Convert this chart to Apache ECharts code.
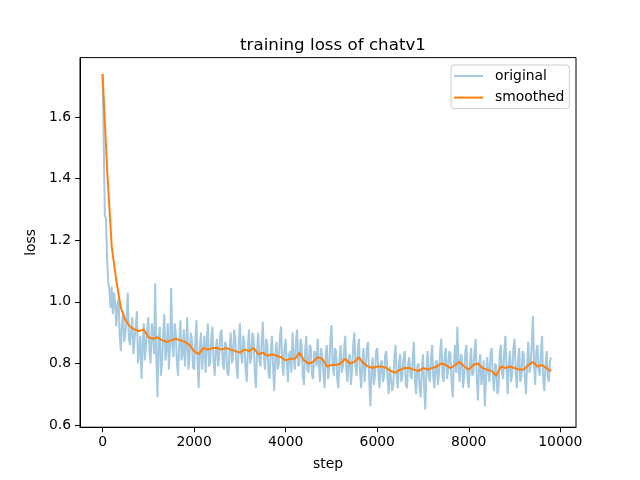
<!DOCTYPE html>
<html>
<head>
<meta charset="utf-8">
<title>training loss of chatv1</title>
<script src="https://cdn.jsdelivr.net/npm/echarts@6/dist/echarts.min.js"></script>
<style>
  html, body { margin: 0; padding: 0; background: #fff; }
  #chart { width: 640px; height: 480px; }
</style>
</head>
<body>
<div id="chart"></div>
<script>
// raw loss, one value every 25 steps (0 .. 9800), one row = 500 steps
var rawStep = 25
var rawLoss = [
  1.74, 1.52, 1.28, 1.27, 1.14, 1.06, 1.04, 0.98, 1.05, 0.96, 1.03, 1.00, 0.92, 0.99, 1.01, 0.89, 0.84, 0.93, 0.97, 0.87,
  0.90, 0.94, 1.03, 0.88, 0.86, 0.91, 0.95, 0.83, 0.88, 0.92, 0.97, 0.80, 0.84, 0.89, 0.75, 0.85, 0.93, 0.81, 0.86, 0.91,
  0.95, 0.84, 0.80, 0.93, 0.90, 0.83, 1.06, 0.82, 0.69, 0.88, 0.92, 0.76, 0.80, 0.90, 0.96, 0.81, 0.85, 0.93, 0.78, 0.86,
  1.045, 0.86, 0.82, 0.93, 0.90, 0.80, 0.76, 0.87, 0.94, 0.81, 0.83, 0.91, 0.79, 0.86, 0.95, 0.78, 0.82, 0.90, 0.88, 0.79,
  0.78, 0.87, 0.94, 0.81, 0.72, 0.85, 0.90, 0.78, 0.84, 0.89, 0.77, 0.86, 0.93, 0.79, 0.80, 0.88, 0.92, 0.81, 0.76, 0.85,
  0.88, 0.79, 0.83, 0.90, 0.91, 0.80, 0.78, 0.87, 0.86, 0.77, 0.76, 0.85, 0.90, 0.80, 0.82, 0.91, 0.88, 0.79, 0.75, 0.86,
  0.93, 0.83, 0.80, 0.89, 0.86, 0.78, 0.74, 0.85, 0.91, 0.80, 0.82, 0.90, 0.88, 0.77, 0.72, 0.84, 0.90, 0.81, 0.79, 0.87,
  0.935, 0.82, 0.78, 0.88, 0.86, 0.77, 0.75, 0.84, 0.89, 0.79, 0.71, 0.83, 0.87, 0.78, 0.80, 0.89, 0.92, 0.80, 0.76, 0.85,
  0.88, 0.80, 0.74, 0.83, 0.84, 0.77, 0.90, 0.82, 0.78, 0.87, 0.91, 0.79, 0.80, 0.88, 0.86, 0.76, 0.73, 0.84, 0.89, 0.78,
  0.77, 0.86, 0.85, 0.76, 0.75, 0.84, 0.83, 0.79, 0.88, 0.80, 0.74, 0.85, 0.82, 0.77, 0.72, 0.83, 0.86, 0.75, 0.78, 0.87,
  0.925, 0.80, 0.76, 0.85, 0.84, 0.75, 0.72, 0.81, 0.86, 0.77, 0.79, 0.84, 0.89, 0.78, 0.74, 0.82, 0.83, 0.73, 0.78, 0.86,
  0.90, 0.79, 0.76, 0.84, 0.88, 0.77, 0.72, 0.80, 0.85, 0.74, 0.79, 0.85, 0.87, 0.75, 0.66, 0.78, 0.82, 0.73, 0.76, 0.84,
  0.85, 0.77, 0.72, 0.80, 0.81, 0.74, 0.76, 0.83, 0.84, 0.75, 0.70, 0.79, 0.79, 0.71, 0.73, 0.82, 0.86, 0.76, 0.72, 0.80,
  0.83, 0.74, 0.76, 0.82, 0.84, 0.73, 0.72, 0.80, 0.82, 0.76, 0.75, 0.81, 0.87, 0.74, 0.70, 0.79, 0.80, 0.72, 0.69, 0.78,
  0.83, 0.72, 0.65, 0.78, 0.84, 0.76, 0.74, 0.82, 0.86, 0.75, 0.72, 0.80, 0.81, 0.73, 0.77, 0.84, 0.88, 0.76, 0.74, 0.83,
  0.85, 0.75, 0.78, 0.84, 0.83, 0.74, 0.69, 0.80, 0.86, 0.77, 0.92, 0.79, 0.74, 0.83, 0.82, 0.72, 0.76, 0.84, 0.86, 0.75,
  0.72, 0.80, 0.85, 0.76, 0.77, 0.84, 0.88, 0.75, 0.68, 0.79, 0.83, 0.73, 0.76, 0.81, 0.66, 0.75, 0.82, 0.78, 0.74, 0.83,
  0.85, 0.76, 0.71, 0.80, 0.79, 0.70, 0.72, 0.83, 0.86, 0.77, 0.75, 0.84, 0.89, 0.78, 0.70, 0.80, 0.84, 0.74, 0.77, 0.85,
  0.88, 0.77, 0.72, 0.81, 0.85, 0.74, 0.76, 0.84, 0.83, 0.75, 0.70, 0.80, 0.87, 0.77, 0.79, 0.86, 0.955, 0.80, 0.73, 0.84,
  0.86, 0.78, 0.76, 0.83, 0.89, 0.75, 0.71, 0.79, 0.84, 0.76, 0.74, 0.81, 0.82
]

// smoothed loss, one value every 100 steps (0 .. 9800)
var smoothStep = 100
var smoothLoss = [
  1.74, 1.43, 1.18, 1.07, 0.98, 0.94, 0.92, 0.91, 0.905, 0.91,
  0.885, 0.88, 0.885, 0.875, 0.87, 0.875, 0.88, 0.875, 0.87, 0.86,
  0.84, 0.83, 0.85, 0.845, 0.85, 0.85, 0.845, 0.85, 0.845, 0.84,
  0.835, 0.845, 0.84, 0.85, 0.83, 0.835, 0.825, 0.83, 0.825, 0.82,
  0.81, 0.815, 0.815, 0.835, 0.81, 0.80, 0.805, 0.82, 0.815, 0.79,
  0.795, 0.795, 0.80, 0.815, 0.80, 0.805, 0.82, 0.80, 0.79, 0.785,
  0.79, 0.79, 0.785, 0.775, 0.77, 0.78, 0.785, 0.785, 0.78, 0.775,
  0.785, 0.78, 0.785, 0.79, 0.80, 0.795, 0.785, 0.795, 0.805, 0.79,
  0.78, 0.795, 0.80, 0.785, 0.78, 0.775, 0.76, 0.79, 0.785, 0.79,
  0.785, 0.78, 0.78, 0.795, 0.805, 0.79, 0.795, 0.785, 0.775
]

var xTicks = [0, 2000, 4000, 6000, 8000, 10000]
var yTicks = [0.6, 0.8, 1.0, 1.2, 1.4, 1.6]

var font = 'DejaVu Sans'

function toPairs (values, step) {
  return values.map(function (v, i) { return [i * step, v] })
}

var chart = echarts.init(document.getElementById('chart'), null, { renderer: 'canvas' })

var option = {
  animation: false,
  backgroundColor: '#ffffff',
  textStyle: { fontFamily: font },
  title: {
    text: 'training loss of chatv1',
    left: 328,
    top: 32,
    textAlign: 'center',
    textStyle: { fontFamily: font, fontSize: 16.7, fontWeight: 'normal', color: '#000' }
  },
  legend: {
    orient: 'vertical',
    left: 451,
    top: 65,
    padding: [4, 5, 4, 3],
    icon: 'rect',
    itemWidth: 29,
    itemHeight: 2,
    itemGap: 7.6,
    borderColor: '#cccccc',
    borderWidth: 1,
    borderRadius: 3,
    backgroundColor: 'rgba(255,255,255,0.8)',
    textStyle: { fontFamily: font, fontSize: 13.9, lineHeight: 14, color: '#000', padding: [0, 0, 0, 7] },
    data: ['original', 'smoothed']
  },
  grid: {
    left: 80,
    right: 64,
    top: 57.6,
    bottom: 52.8,
    show: true,
    borderColor: '#000',
    borderWidth: 1,
    containLabel: false
  },
  xAxis: {
    type: 'value',
    min: -492.5,
    max: 10342,
    name: 'step',
    nameLocation: 'middle',
    nameGap: 30,
    nameTextStyle: { fontFamily: font, fontSize: 13.9, color: '#000' },
    axisLine: { show: true, onZero: false, lineStyle: { color: '#000', width: 1 } },
    axisTick: { show: true, customValues: xTicks, length: 5, lineStyle: { color: '#000' } },
    axisLabel: {
      customValues: xTicks,
      margin: 8,
      fontSize: 13.9,
      color: '#000',
      fontFamily: font,
      formatter: function (v) { return String(v) }
    },
    splitLine: { show: false }
  },
  yAxis: {
    type: 'value',
    min: 0.593,
    max: 1.793,
    name: 'loss',
    nameLocation: 'middle',
    nameGap: 37,
    nameTextStyle: { fontFamily: font, fontSize: 13.9, color: '#000' },
    axisLine: { show: true, onZero: false, lineStyle: { color: '#000', width: 1 } },
    axisTick: { show: true, customValues: yTicks, length: 5, lineStyle: { color: '#000' } },
    axisLabel: {
      customValues: yTicks,
      margin: 9,
      fontSize: 13.9,
      color: '#000',
      fontFamily: font,
      formatter: function (v) { return v.toFixed(1) }
    },
    splitLine: { show: false }
  },
  series: [
    {
      name: 'original',
      type: 'line',
      data: toPairs(rawLoss, rawStep),
      symbol: 'none',
      color: '#a5c9e1',
      lineStyle: { width: 2, color: '#a5c9e1' },
      z: 2
    },
    {
      name: 'smoothed',
      type: 'line',
      data: toPairs(smoothLoss, smoothStep),
      symbol: 'none',
      color: '#ff7f0e',
      lineStyle: { width: 2, color: '#ff7f0e' },
      z: 3
    }
  ]
}

chart.setOption(option)
</script>
</body>
</html>
